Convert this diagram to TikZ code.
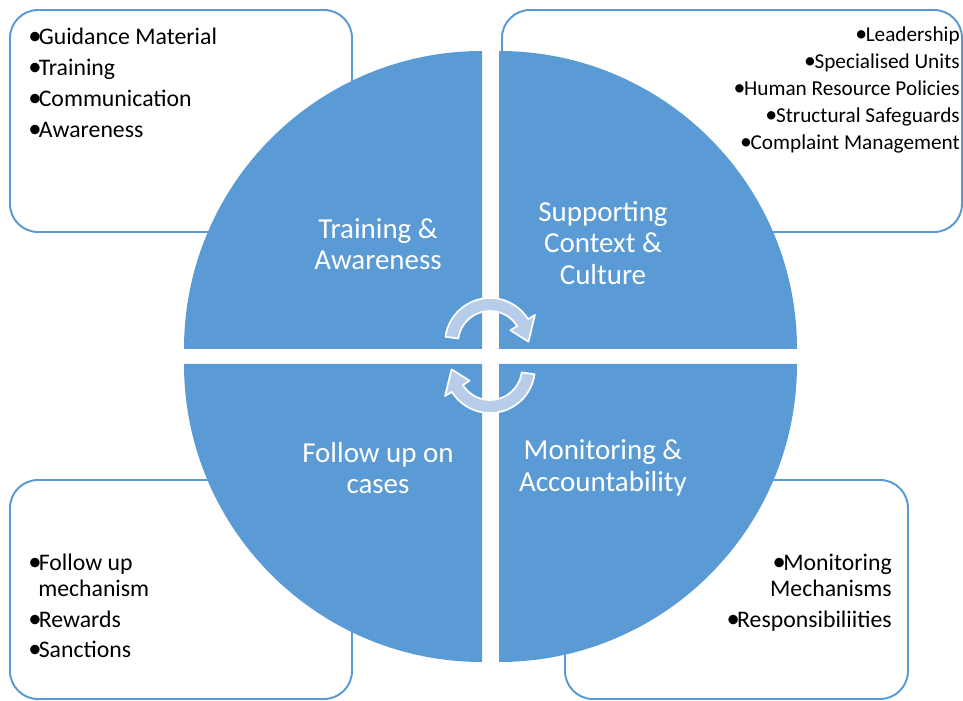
\documentclass[tikz,border=0pt]{standalone}
\usepackage{fontspec}
\setmainfont{Carlito}
\usepackage{xcolor}
\usepackage{graphicx}
\definecolor{quadblue}{RGB}{91,155,213}
\definecolor{cyclefill}{RGB}{184,205,234}
\newcommand{\bul}{\makebox[7.5pt][l]{\scalebox{1.12}{•}}}

\begin{document}
\begin{tikzpicture}[x=0.025cm, y=0.025cm,
    listbox/.style={draw=quadblue, line width=1.4pt, fill=white, rounded corners=0.7cm},
    quad/.style={fill=quadblue},
    cyclearrow/.style={fill=cyclefill, draw=white, line width=1.2pt, line join=round},
    quadtext/.style={white, align=center, font=\fontsize{20.6}{22.5}\selectfont},
    item/.style={inner sep=0pt, font=\fontsize{16.9}{20}\selectfont},
    smallitem/.style={inner sep=0pt, font=\fontsize{15.1}{18}\selectfont}]
    \useasboundingbox (0,0) rectangle (963,700);

    % corner boxes
    \draw[listbox] (10,468) rectangle (352,690);
    \draw[listbox] (502,468) rectangle (962,690);
    \draw[listbox] (10,1) rectangle (352,220);
    \draw[listbox] (565,1) rectangle (908,220);

    % the four quarters
    \fill[quad] (482,351) -- ++(180:298) arc (180:90:298) -- cycle;
    \fill[quad] (499,351) -- ++(90:298) arc (90:0:298) -- cycle;
    \fill[quad] (482,336) -- ++(270:298) arc (270:180:298) -- cycle;
    \fill[quad] (499,336) -- ++(0:298) arc (0:-90:298) -- cycle;

    % cycle arrows in the middle
    \filldraw[cyclearrow, shift={(490,357)}]
        (172:45) arc (172:32:45) -- (32:53) -- (2:38.5) -- (32:24) -- (32:32) arc (32:172:32) -- cycle;
    \filldraw[cyclearrow, shift={(490,332)}, rotate=180]
        (172:45) arc (172:32:45) -- (32:53) -- (2:38.5) -- (32:24) -- (32:32) arc (32:172:32) -- cycle;

    \node[quadtext] (train) at (378,456) {Training \&\\Awareness};
    \node[quadtext] (support) at (603,457) {Supporting\\Context \&\\Culture};
    \node[quadtext] (follow) at (378,232) {Follow up on\\cases};
    \node[quadtext] (monitor) at (603,232) {Monitoring \&\\Accountability};

    \foreach \txt [count=\i] in {Guidance Material, Training, Communication, Awareness}
        \node[item, anchor=base west] (tl\i) at (28,{686-31*\i}) {\bul\txt};

    \foreach \txt [count=\i] in {Leadership, Specialised Units, Human Resource Policies,
                                 Structural Safeguards, Complaint Management}
        \node[smallitem, anchor=base east] (tr\i) at (960,{685-27*\i}) {\bul\txt};

    \node[item, anchor=base west] (bl1) at (28,130) {\bul Follow up};
    \node[item, anchor=base west] (bl2) at (38,104) {mechanism};
    \node[item, anchor=base west] (bl3) at (28,73) {\bul Rewards};
    \node[item, anchor=base west] (bl4) at (28,43) {\bul Sanctions};

    \node[item, anchor=base east] (br1) at (892,130) {\bul Monitoring};
    \node[item, anchor=base east] (br2) at (892,104) {Mechanisms};
    \node[item, anchor=base east] (br3) at (892,73) {\bul Responsibiliities};
\end{tikzpicture}
\end{document}
